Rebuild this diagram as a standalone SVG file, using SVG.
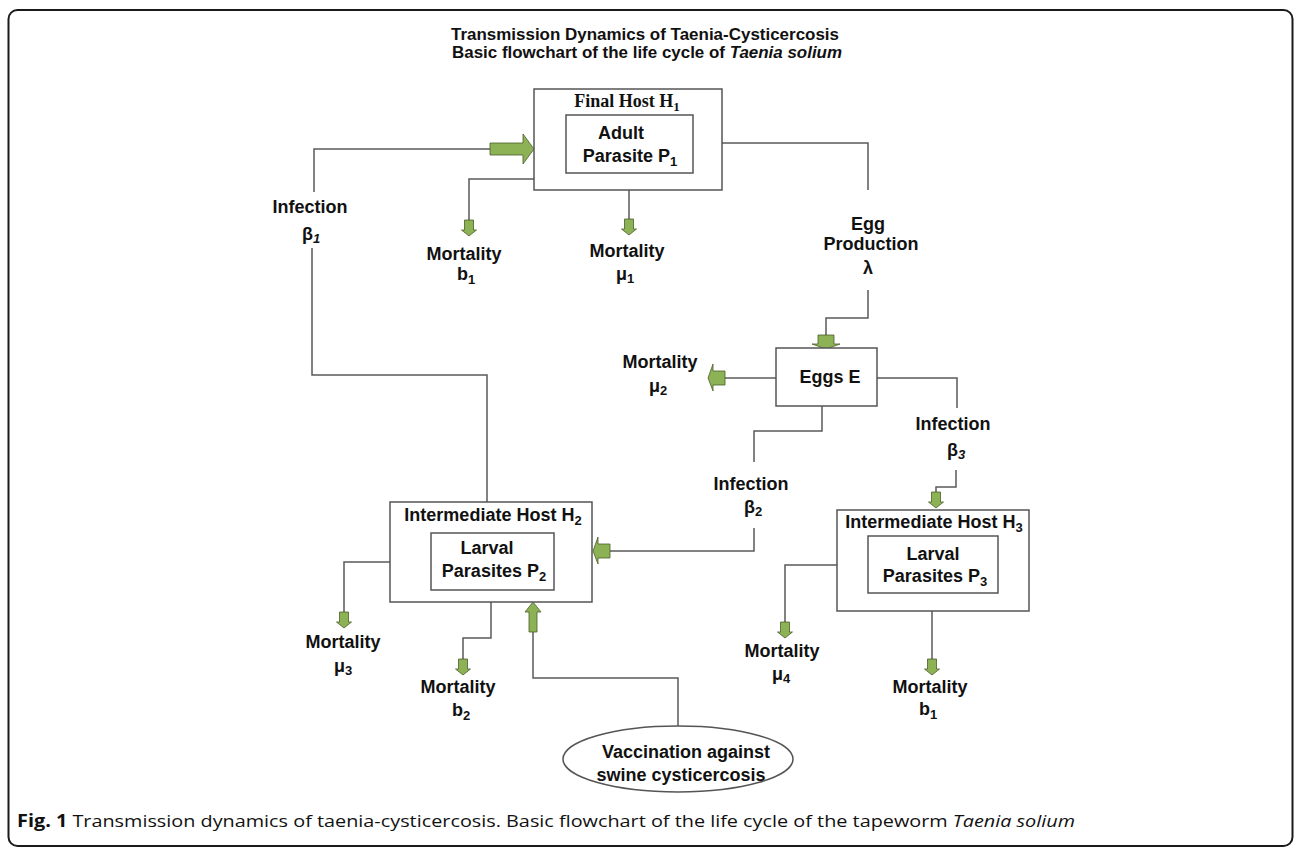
<svg xmlns="http://www.w3.org/2000/svg" xmlns:xlink="http://www.w3.org/1999/xlink" width="1295" height="849" viewBox="0 0 1295 849">
<style>
.frame{fill:#fff;stroke:#1a1a1a;stroke-width:2}
.box{fill:#fff;stroke:#555;stroke-width:1.5}
.ln{fill:none;stroke:#5a5a5a;stroke-width:1.5}
.ar{fill:#8db255;stroke:#4a5e2a;stroke-width:0.8}
.t{font-family:"Liberation Sans",Arial,sans-serif;font-weight:bold;font-size:18px;fill:#111;text-anchor:middle}
.tt{font-family:"Liberation Serif","Times New Roman",serif;font-weight:bold;font-size:18px;fill:#111;text-anchor:middle}
.ti{font-family:"Liberation Sans",Arial,sans-serif;font-weight:bold;font-size:16.5px;fill:#111;text-anchor:middle}
.cap{font-family:"Open Sans","Liberation Sans",sans-serif;font-size:17px;fill:#111}
.sub{font-size:13px}
</style>
<defs>
<path id="dn" d="M-4.5,-16 H4.5 V-6 H7.5 L0,0 L-7.5,-6 H-4.5 Z"/>
</defs>
<rect class="frame" x="8.5" y="10" width="1284" height="836" rx="9"/>
<g id="title">
<text class="ti" x="645" y="40" textLength="388" lengthAdjust="spacingAndGlyphs">Transmission Dynamics of Taenia-Cysticercosis</text>
<text class="ti" x="647" y="58" textLength="390" lengthAdjust="spacingAndGlyphs">Basic flowchart of the life cycle of <tspan font-style="italic">Taenia solium</tspan></text>
</g>
<g id="connectors">
<path class="ln" d="M312,248 V375 H487 V502"/>
<path class="ln" d="M314,192 V149 H490"/>
<path class="ln" d="M534,179 H469 V220"/>
<path class="ln" d="M629,173 V220"/>
<path class="ln" d="M722,143 H868 V190"/>
<path class="ln" d="M868,290 V318 H826 V335"/>
<path class="ln" d="M776,378 H725"/>
<path class="ln" d="M877,378 H957 V408"/>
<path class="ln" d="M956,470 V487 H936 V493"/>
<path class="ln" d="M822,406 V431 H754 V462"/>
<path class="ln" d="M754,528 V551 H610"/>
<path class="ln" d="M431,562 H344 V613"/>
<path class="ln" d="M491,602 V638 H463 V660"/>
<path class="ln" d="M533,632 V678 H678 V726"/>
<path class="ln" d="M868,565 H785 V623"/>
<path class="ln" d="M932,611 V660"/>
<path class="ar" d="M490,143 H523 V134 L534,149 L523,164 V155 H490 Z"/>
<use class="ar" xlink:href="#dn" x="469" y="236"/>
<use class="ar" xlink:href="#dn" x="629" y="235"/>
<path class="ar" d="M818,335 H834 V344 H840 L826,349 L812,344 H818 Z"/>
<path class="ar" d="M725,371 V385 H713 V391 L708,378 L713,364 V371 Z"/>
<use class="ar" xlink:href="#dn" x="936" y="508"/>
<path class="ar" d="M610,544 V558 H598 V564 L593,551 L598,537 V544 Z"/>
<use class="ar" xlink:href="#dn" x="344" y="628"/>
<use class="ar" xlink:href="#dn" x="463" y="675"/>
<path class="ar" d="M529,632 V612 H525 L533,602 L541,612 H537 V632 Z"/>
<use class="ar" xlink:href="#dn" x="785" y="638"/>
<use class="ar" xlink:href="#dn" x="932" y="675"/>
</g>
<g id="H1">
<rect class="box" x="534" y="89" width="188" height="101"/>
<text class="tt" x="627" y="107">Final Host H<tspan class="sub" dy="4">1</tspan></text>
<rect class="box" x="566" y="115" width="127" height="58"/>
<text class="t" x="621" y="139">Adult</text>
<text class="t" x="630" y="162">Parasite P<tspan class="sub" dy="4">1</tspan></text>
</g>
<g id="eggs">
<rect class="box" x="776" y="348" width="101" height="58"/>
<text class="t" x="830" y="383">Eggs E</text>
</g>
<g id="H2">
<rect class="box" x="390" y="502" width="202" height="100"/>
<text class="t" x="493" y="521">Intermediate Host H<tspan class="sub" dy="4">2</tspan></text>
<rect class="box" x="431" y="533" width="123" height="57"/>
<text class="t" x="487" y="554">Larval</text>
<text class="t" x="494" y="577">Parasites P<tspan class="sub" dy="4">2</tspan></text>
</g>
<g id="H3">
<rect class="box" x="837" y="510" width="192" height="101"/>
<text class="t" x="934" y="528">Intermediate Host H<tspan class="sub" dy="4">3</tspan></text>
<rect class="box" x="868" y="536" width="130" height="57"/>
<text class="t" x="933" y="560">Larval</text>
<text class="t" x="935" y="582">Parasites P<tspan class="sub" dy="4">3</tspan></text>
</g>
<g id="vaccination">
<ellipse class="box" cx="678" cy="759" rx="115" ry="33"/>
<text class="t" x="686" y="758">Vaccination against</text>
<text class="t" x="681" y="781">swine cysticercosis</text>
</g>
<g id="labels">
<text class="t" x="310" y="213">Infection</text>
<text class="t" x="311" y="240">β<tspan class="sub" dy="3" font-style="italic">1</tspan></text>
<text class="t" x="464" y="260">Mortality</text>
<text class="t" x="466" y="280">b<tspan class="sub" dy="4">1</tspan></text>
<text class="t" x="627" y="257">Mortality</text>
<text class="t" x="625" y="280">μ<tspan class="sub" dy="3">1</tspan></text>
<text class="t" x="868" y="230">Egg</text>
<text class="t" x="871" y="250">Production</text>
<text class="t" x="868" y="274">λ</text>
<text class="t" x="660" y="368">Mortality</text>
<text class="t" x="658" y="392">μ<tspan class="sub" dy="3">2</tspan></text>
<text class="t" x="953" y="430">Infection</text>
<text class="t" x="956" y="456">β<tspan class="sub" dy="3" font-style="italic">3</tspan></text>
<text class="t" x="751" y="490">Infection</text>
<text class="t" x="753" y="513">β<tspan class="sub" dy="3">2</tspan></text>
<text class="t" x="343" y="648">Mortality</text>
<text class="t" x="343" y="672">μ<tspan class="sub" dy="3">3</tspan></text>
<text class="t" x="458" y="693">Mortality</text>
<text class="t" x="461" y="716">b<tspan class="sub" dy="4">2</tspan></text>
<text class="t" x="782" y="657">Mortality</text>
<text class="t" x="781" y="680">μ<tspan class="sub" dy="3">4</tspan></text>
<text class="t" x="930" y="693">Mortality</text>
<text class="t" x="928" y="715">b<tspan class="sub" dy="4">1</tspan></text>
</g>
<g id="caption">
<text class="cap" x="17" y="827" textLength="1058" lengthAdjust="spacingAndGlyphs"><tspan font-weight="bold">Fig. 1</tspan> Transmission dynamics of taenia-cysticercosis. Basic flowchart of the life cycle of the tapeworm <tspan font-style="italic">Taenia solium</tspan></text>
</g>
</svg>
